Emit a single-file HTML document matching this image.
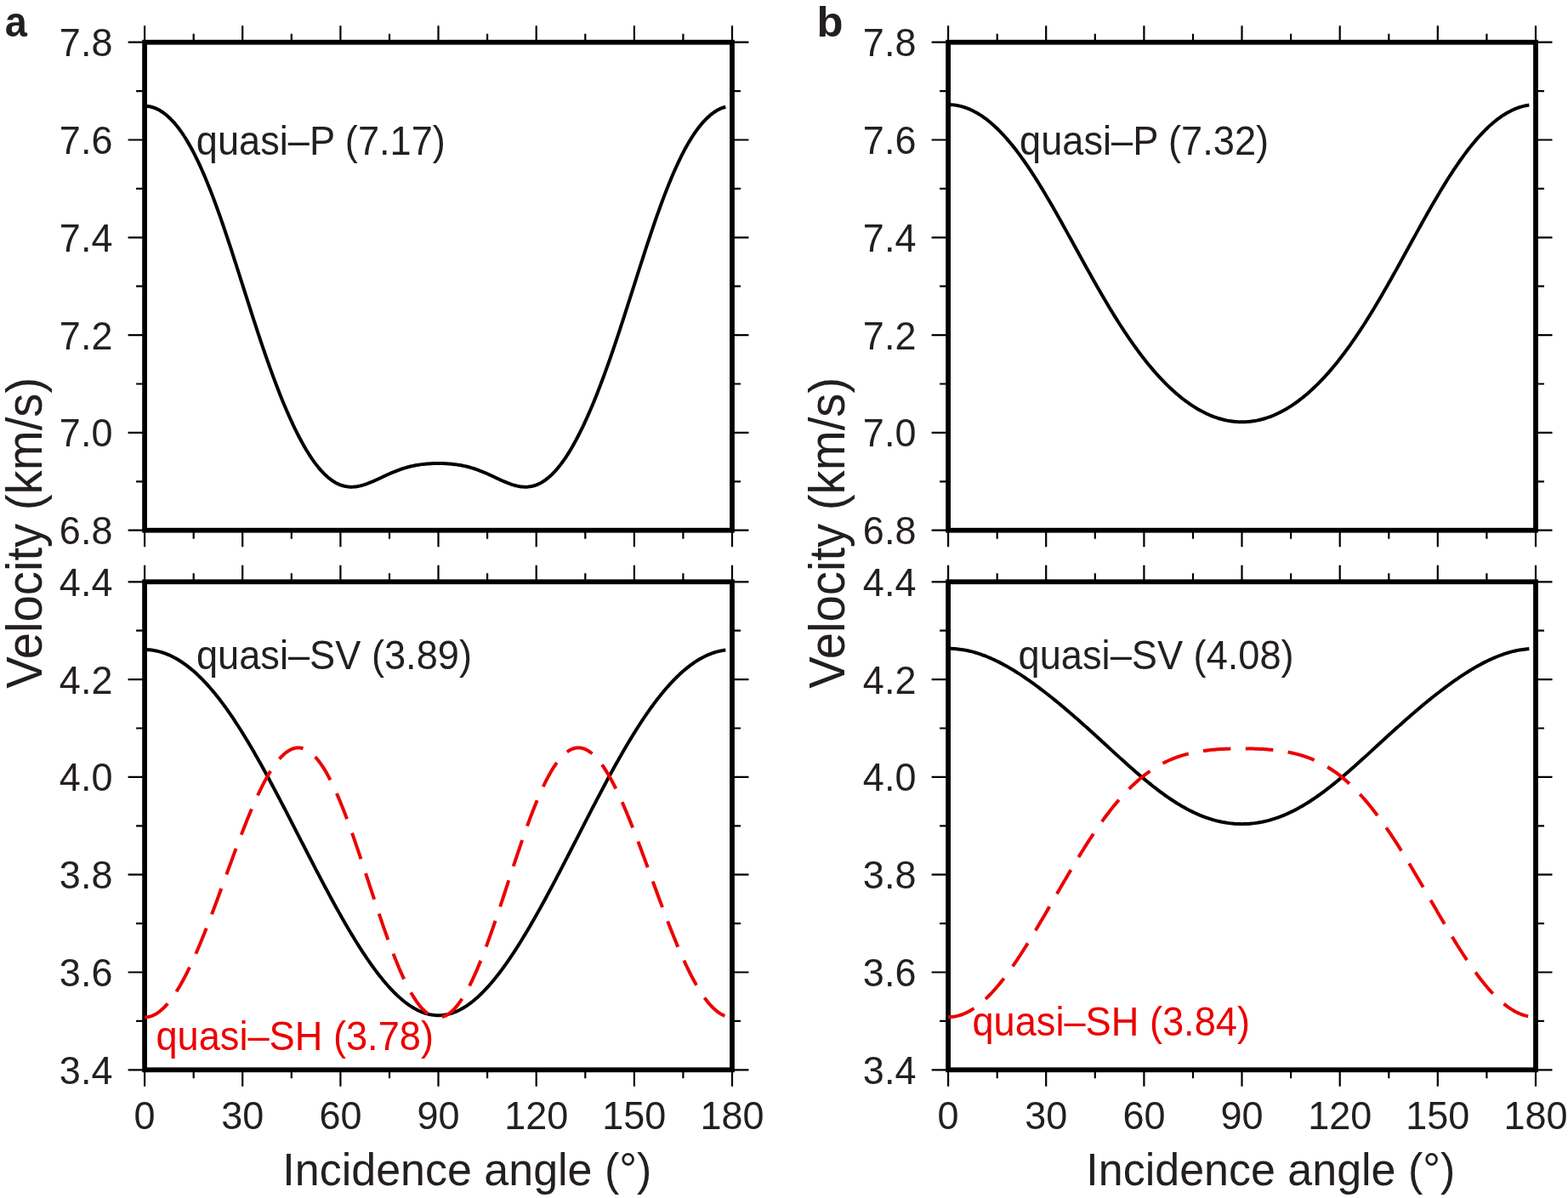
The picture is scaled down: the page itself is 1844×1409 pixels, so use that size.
<!DOCTYPE html>
<html><head><meta charset="utf-8"><title>Velocity vs incidence angle</title><style>html,body{margin:0;padding:0;background:#fff}svg{display:block}</style></head><body>
<svg width="1844" height="1409" viewBox="0 0 1844 1409" font-family='"Liberation Sans", sans-serif'>
<rect width="1844" height="1409" fill="#fff"/>
<path d="M150.6 49.7L170.1 49.7M861.0 49.7L880.5 49.7M160.1 107.1L170.1 107.1M861.0 107.1L871.0 107.1M150.6 164.5L170.1 164.5M861.0 164.5L880.5 164.5M160.1 221.9L170.1 221.9M861.0 221.9L871.0 221.9M150.6 279.3L170.1 279.3M861.0 279.3L880.5 279.3M160.1 336.7L170.1 336.7M861.0 336.7L871.0 336.7M150.6 394.1L170.1 394.1M861.0 394.1L880.5 394.1M160.1 451.5L170.1 451.5M861.0 451.5L871.0 451.5M150.6 508.9L170.1 508.9M861.0 508.9L880.5 508.9M160.1 566.3L170.1 566.3M861.0 566.3L871.0 566.3M150.6 623.7L170.1 623.7M861.0 623.7L880.5 623.7M170.1 30.2L170.1 49.7M170.1 623.7L170.1 643.2M227.7 39.7L227.7 49.7M227.7 623.7L227.7 633.7M285.2 30.2L285.2 49.7M285.2 623.7L285.2 643.2M342.8 39.7L342.8 49.7M342.8 623.7L342.8 633.7M400.4 30.2L400.4 49.7M400.4 623.7L400.4 643.2M458.0 39.7L458.0 49.7M458.0 623.7L458.0 633.7M515.5 30.2L515.5 49.7M515.5 623.7L515.5 643.2M573.1 39.7L573.1 49.7M573.1 623.7L573.1 633.7M630.7 30.2L630.7 49.7M630.7 623.7L630.7 643.2M688.3 39.7L688.3 49.7M688.3 623.7L688.3 633.7M745.9 30.2L745.9 49.7M745.9 623.7L745.9 643.2M803.4 39.7L803.4 49.7M803.4 623.7L803.4 633.7M861.0 30.2L861.0 49.7M861.0 623.7L861.0 643.2" stroke="#000" stroke-width="2.2" fill="none"/>
<rect x="170.1" y="49.7" width="690.9" height="574.0" fill="none" stroke="#000" stroke-width="5.8"/>
<path d="M150.6 684.3L170.1 684.3M861.0 684.3L880.5 684.3M160.1 741.7L170.1 741.7M861.0 741.7L871.0 741.7M150.6 799.1L170.1 799.1M861.0 799.1L880.5 799.1M160.1 856.5L170.1 856.5M861.0 856.5L871.0 856.5M150.6 913.9L170.1 913.9M861.0 913.9L880.5 913.9M160.1 971.3L170.1 971.3M861.0 971.3L871.0 971.3M150.6 1028.7L170.1 1028.7M861.0 1028.7L880.5 1028.7M160.1 1086.1L170.1 1086.1M861.0 1086.1L871.0 1086.1M150.6 1143.5L170.1 1143.5M861.0 1143.5L880.5 1143.5M160.1 1200.9L170.1 1200.9M861.0 1200.9L871.0 1200.9M150.6 1258.3L170.1 1258.3M861.0 1258.3L880.5 1258.3M170.1 664.8L170.1 684.3M170.1 1258.3L170.1 1277.8M227.7 674.3L227.7 684.3M227.7 1258.3L227.7 1268.3M285.2 664.8L285.2 684.3M285.2 1258.3L285.2 1277.8M342.8 674.3L342.8 684.3M342.8 1258.3L342.8 1268.3M400.4 664.8L400.4 684.3M400.4 1258.3L400.4 1277.8M458.0 674.3L458.0 684.3M458.0 1258.3L458.0 1268.3M515.5 664.8L515.5 684.3M515.5 1258.3L515.5 1277.8M573.1 674.3L573.1 684.3M573.1 1258.3L573.1 1268.3M630.7 664.8L630.7 684.3M630.7 1258.3L630.7 1277.8M688.3 674.3L688.3 684.3M688.3 1258.3L688.3 1268.3M745.9 664.8L745.9 684.3M745.9 1258.3L745.9 1277.8M803.4 674.3L803.4 684.3M803.4 1258.3L803.4 1268.3M861.0 664.8L861.0 684.3M861.0 1258.3L861.0 1277.8" stroke="#000" stroke-width="2.2" fill="none"/>
<rect x="170.1" y="684.3" width="690.9" height="574.0" fill="none" stroke="#000" stroke-width="5.8"/>
<path d="M170.10 124.79 L172.02 124.85 L173.94 125.02 L175.86 125.32 L177.78 125.73 L179.70 126.26 L181.62 126.91 L183.53 127.68 L185.45 128.57 L187.37 129.58 L189.29 130.71 L191.21 131.96 L193.13 133.33 L195.05 134.83 L196.97 136.45 L198.89 138.19 L200.81 140.05 L202.73 142.04 L204.64 144.15 L206.56 146.39 L208.48 148.76 L210.40 151.25 L212.32 153.87 L214.24 156.62 L216.16 159.49 L218.08 162.49 L220.00 165.62 L221.92 168.88 L223.84 172.27 L225.76 175.78 L227.68 179.41 L229.59 183.18 L231.51 187.07 L233.43 191.08 L235.35 195.21 L237.27 199.46 L239.19 203.83 L241.11 208.32 L243.03 212.92 L244.95 217.63 L246.87 222.45 L248.79 227.38 L250.70 232.40 L252.62 237.53 L254.54 242.75 L256.46 248.06 L258.38 253.45 L260.30 258.93 L262.22 264.48 L264.14 270.10 L266.06 275.79 L267.98 281.54 L269.90 287.35 L271.82 293.20 L273.74 299.10 L275.65 305.04 L277.57 311.01 L279.49 317.00 L281.41 323.01 L283.33 329.04 L285.25 335.08 L287.17 341.12 L289.09 347.15 L291.01 353.18 L292.93 359.19 L294.85 365.18 L296.76 371.14 L298.68 377.07 L300.60 382.97 L302.52 388.82 L304.44 394.63 L306.36 400.39 L308.28 406.09 L310.20 411.73 L312.12 417.31 L314.04 422.82 L315.96 428.27 L317.88 433.64 L319.79 438.93 L321.71 444.15 L323.63 449.28 L325.55 454.33 L327.47 459.29 L329.39 464.17 L331.31 468.95 L333.23 473.65 L335.15 478.25 L337.07 482.75 L338.99 487.16 L340.91 491.47 L342.82 495.68 L344.74 499.79 L346.66 503.80 L348.58 507.71 L350.50 511.51 L352.42 515.21 L354.34 518.80 L356.26 522.28 L358.18 525.65 L360.10 528.92 L362.02 532.07 L363.94 535.11 L365.86 538.04 L367.77 540.85 L369.69 543.54 L371.61 546.12 L373.53 548.58 L375.45 550.93 L377.37 553.15 L379.29 555.25 L381.21 557.23 L383.13 559.09 L385.05 560.82 L386.97 562.44 L388.88 563.93 L390.80 565.30 L392.72 566.55 L394.64 567.67 L396.56 568.68 L398.48 569.57 L400.40 570.34 L402.32 571.00 L404.24 571.54 L406.16 571.97 L408.08 572.30 L410.00 572.52 L411.91 572.63 L413.83 572.65 L415.75 572.58 L417.67 572.42 L419.59 572.17 L421.51 571.84 L423.43 571.43 L425.35 570.95 L427.27 570.41 L429.19 569.81 L431.11 569.15 L433.03 568.45 L434.95 567.70 L436.86 566.91 L438.78 566.09 L440.70 565.24 L442.62 564.37 L444.54 563.49 L446.46 562.59 L448.38 561.69 L450.30 560.79 L452.22 559.89 L454.14 559.00 L456.06 558.12 L457.98 557.26 L459.89 556.41 L461.81 555.59 L463.73 554.79 L465.65 554.02 L467.57 553.27 L469.49 552.56 L471.41 551.88 L473.33 551.24 L475.25 550.62 L477.17 550.05 L479.09 549.50 L481.00 549.00 L482.92 548.53 L484.84 548.09 L486.76 547.68 L488.68 547.31 L490.60 546.97 L492.52 546.67 L494.44 546.39 L496.36 546.14 L498.28 545.92 L500.20 545.73 L502.12 545.56 L504.03 545.41 L505.95 545.29 L507.87 545.20 L509.79 545.12 L511.71 545.07 L513.63 545.04 L515.55 545.03 L517.47 545.04 L519.39 545.07 L521.31 545.12 L523.23 545.20 L525.15 545.29 L527.07 545.41 L528.98 545.56 L530.90 545.73 L532.82 545.92 L534.74 546.14 L536.66 546.39 L538.58 546.67 L540.50 546.97 L542.42 547.31 L544.34 547.68 L546.26 548.09 L548.18 548.53 L550.10 549.00 L552.01 549.50 L553.93 550.05 L555.85 550.62 L557.77 551.24 L559.69 551.88 L561.61 552.56 L563.53 553.27 L565.45 554.02 L567.37 554.79 L569.29 555.59 L571.21 556.41 L573.12 557.26 L575.04 558.12 L576.96 559.00 L578.88 559.89 L580.80 560.79 L582.72 561.69 L584.64 562.59 L586.56 563.49 L588.48 564.37 L590.40 565.24 L592.32 566.09 L594.24 566.91 L596.15 567.70 L598.07 568.45 L599.99 569.15 L601.91 569.81 L603.83 570.41 L605.75 570.95 L607.67 571.43 L609.59 571.84 L611.51 572.17 L613.43 572.42 L615.35 572.58 L617.27 572.65 L619.18 572.63 L621.10 572.52 L623.02 572.30 L624.94 571.97 L626.86 571.54 L628.78 571.00 L630.70 570.34 L632.62 569.57 L634.54 568.68 L636.46 567.67 L638.38 566.55 L640.30 565.30 L642.22 563.93 L644.13 562.44 L646.05 560.82 L647.97 559.09 L649.89 557.23 L651.81 555.25 L653.73 553.15 L655.65 550.93 L657.57 548.58 L659.49 546.12 L661.41 543.54 L663.33 540.85 L665.25 538.04 L667.16 535.11 L669.08 532.07 L671.00 528.92 L672.92 525.65 L674.84 522.28 L676.76 518.80 L678.68 515.21 L680.60 511.51 L682.52 507.71 L684.44 503.80 L686.36 499.79 L688.27 495.68 L690.19 491.47 L692.11 487.16 L694.03 482.75 L695.95 478.25 L697.87 473.65 L699.79 468.95 L701.71 464.17 L703.63 459.29 L705.55 454.33 L707.47 449.28 L709.39 444.15 L711.31 438.93 L713.22 433.64 L715.14 428.27 L717.06 422.82 L718.98 417.31 L720.90 411.73 L722.82 406.09 L724.74 400.39 L726.66 394.63 L728.58 388.82 L730.50 382.97 L732.42 377.07 L734.34 371.14 L736.25 365.18 L738.17 359.19 L740.09 353.18 L742.01 347.15 L743.93 341.12 L745.85 335.08 L747.77 329.04 L749.69 323.01 L751.61 317.00 L753.53 311.01 L755.45 305.04 L757.37 299.10 L759.28 293.20 L761.20 287.35 L763.12 281.54 L765.04 275.79 L766.96 270.10 L768.88 264.48 L770.80 258.93 L772.72 253.45 L774.64 248.06 L776.56 242.75 L778.48 237.53 L780.39 232.40 L782.31 227.38 L784.23 222.45 L786.15 217.63 L788.07 212.92 L789.99 208.32 L791.91 203.83 L793.83 199.46 L795.75 195.21 L797.67 191.08 L799.59 187.07 L801.51 183.18 L803.43 179.41 L805.34 175.78 L807.26 172.27 L809.18 168.88 L811.10 165.62 L813.02 162.49 L814.94 159.49 L816.86 156.62 L818.78 153.87 L820.70 151.25 L822.62 148.76 L824.54 146.39 L826.46 144.15 L828.37 142.04 L830.29 140.05 L832.21 138.19 L834.13 136.45 L836.05 134.83 L837.97 133.33 L839.89 131.96 L841.81 130.71 L843.73 129.58 L845.65 128.57 L847.57 127.68 L849.49 126.91 L851.40 126.26 L853.32 125.73" stroke="#000" stroke-width="4.0" fill="none" stroke-linejoin="round"/>
<path d="M170.10 764.09 L172.02 764.11 L173.94 764.20 L175.86 764.34 L177.78 764.54 L179.70 764.79 L181.62 765.10 L183.53 765.47 L185.45 765.89 L187.37 766.37 L189.29 766.90 L191.21 767.49 L193.13 768.14 L195.05 768.85 L196.97 769.61 L198.89 770.42 L200.81 771.29 L202.73 772.22 L204.64 773.21 L206.56 774.25 L208.48 775.34 L210.40 776.49 L212.32 777.70 L214.24 778.96 L216.16 780.28 L218.08 781.66 L220.00 783.08 L221.92 784.57 L223.84 786.11 L225.76 787.70 L227.68 789.34 L229.59 791.05 L231.51 792.80 L233.43 794.61 L235.35 796.47 L237.27 798.38 L239.19 800.35 L241.11 802.37 L243.03 804.44 L244.95 806.57 L246.87 808.74 L248.79 810.96 L250.70 813.24 L252.62 815.56 L254.54 817.94 L256.46 820.36 L258.38 822.83 L260.30 825.35 L262.22 827.91 L264.14 830.52 L266.06 833.18 L267.98 835.88 L269.90 838.62 L271.82 841.41 L273.74 844.24 L275.65 847.12 L277.57 850.03 L279.49 852.99 L281.41 855.98 L283.33 859.01 L285.25 862.08 L287.17 865.19 L289.09 868.34 L291.01 871.51 L292.93 874.73 L294.85 877.97 L296.76 881.25 L298.68 884.56 L300.60 887.90 L302.52 891.27 L304.44 894.66 L306.36 898.09 L308.28 901.54 L310.20 905.01 L312.12 908.51 L314.04 912.03 L315.96 915.57 L317.88 919.13 L319.79 922.72 L321.71 926.32 L323.63 929.94 L325.55 933.57 L327.47 937.22 L329.39 940.89 L331.31 944.56 L333.23 948.25 L335.15 951.95 L337.07 955.66 L338.99 959.38 L340.91 963.10 L342.82 966.83 L344.74 970.57 L346.66 974.31 L348.58 978.05 L350.50 981.80 L352.42 985.54 L354.34 989.29 L356.26 993.03 L358.18 996.77 L360.10 1000.51 L362.02 1004.24 L363.94 1007.97 L365.86 1011.69 L367.77 1015.41 L369.69 1019.11 L371.61 1022.80 L373.53 1026.49 L375.45 1030.16 L377.37 1033.82 L379.29 1037.46 L381.21 1041.09 L383.13 1044.70 L385.05 1048.29 L386.97 1051.87 L388.88 1055.43 L390.80 1058.96 L392.72 1062.48 L394.64 1065.97 L396.56 1069.43 L398.48 1072.88 L400.40 1076.29 L402.32 1079.68 L404.24 1083.05 L406.16 1086.38 L408.08 1089.68 L410.00 1092.95 L411.91 1096.19 L413.83 1099.40 L415.75 1102.57 L417.67 1105.70 L419.59 1108.80 L421.51 1111.86 L423.43 1114.88 L425.35 1117.86 L427.27 1120.80 L429.19 1123.70 L431.11 1126.55 L433.03 1129.36 L434.95 1132.13 L436.86 1134.84 L438.78 1137.51 L440.70 1140.14 L442.62 1142.71 L444.54 1145.23 L446.46 1147.69 L448.38 1150.11 L450.30 1152.47 L452.22 1154.78 L454.14 1157.03 L456.06 1159.22 L457.98 1161.35 L459.89 1163.43 L461.81 1165.44 L463.73 1167.39 L465.65 1169.28 L467.57 1171.11 L469.49 1172.88 L471.41 1174.58 L473.33 1176.21 L475.25 1177.78 L477.17 1179.28 L479.09 1180.71 L481.00 1182.07 L482.92 1183.37 L484.84 1184.59 L486.76 1185.74 L488.68 1186.82 L490.60 1187.83 L492.52 1188.77 L494.44 1189.63 L496.36 1190.43 L498.28 1191.14 L500.20 1191.78 L502.12 1192.35 L504.03 1192.84 L505.95 1193.26 L507.87 1193.60 L509.79 1193.87 L511.71 1194.06 L513.63 1194.17 L515.55 1194.21 L517.47 1194.17 L519.39 1194.06 L521.31 1193.87 L523.23 1193.60 L525.15 1193.26 L527.07 1192.84 L528.98 1192.35 L530.90 1191.78 L532.82 1191.14 L534.74 1190.43 L536.66 1189.63 L538.58 1188.77 L540.50 1187.83 L542.42 1186.82 L544.34 1185.74 L546.26 1184.59 L548.18 1183.37 L550.10 1182.07 L552.01 1180.71 L553.93 1179.28 L555.85 1177.78 L557.77 1176.21 L559.69 1174.58 L561.61 1172.88 L563.53 1171.11 L565.45 1169.28 L567.37 1167.39 L569.29 1165.44 L571.21 1163.43 L573.12 1161.35 L575.04 1159.22 L576.96 1157.03 L578.88 1154.78 L580.80 1152.47 L582.72 1150.11 L584.64 1147.69 L586.56 1145.23 L588.48 1142.71 L590.40 1140.14 L592.32 1137.51 L594.24 1134.84 L596.15 1132.13 L598.07 1129.36 L599.99 1126.55 L601.91 1123.70 L603.83 1120.80 L605.75 1117.86 L607.67 1114.88 L609.59 1111.86 L611.51 1108.80 L613.43 1105.70 L615.35 1102.57 L617.27 1099.40 L619.18 1096.19 L621.10 1092.95 L623.02 1089.68 L624.94 1086.38 L626.86 1083.05 L628.78 1079.68 L630.70 1076.29 L632.62 1072.88 L634.54 1069.43 L636.46 1065.97 L638.38 1062.48 L640.30 1058.96 L642.22 1055.43 L644.13 1051.87 L646.05 1048.29 L647.97 1044.70 L649.89 1041.09 L651.81 1037.46 L653.73 1033.82 L655.65 1030.16 L657.57 1026.49 L659.49 1022.80 L661.41 1019.11 L663.33 1015.41 L665.25 1011.69 L667.16 1007.97 L669.08 1004.24 L671.00 1000.51 L672.92 996.77 L674.84 993.03 L676.76 989.29 L678.68 985.54 L680.60 981.80 L682.52 978.05 L684.44 974.31 L686.36 970.57 L688.27 966.83 L690.19 963.10 L692.11 959.38 L694.03 955.66 L695.95 951.95 L697.87 948.25 L699.79 944.56 L701.71 940.89 L703.63 937.22 L705.55 933.57 L707.47 929.94 L709.39 926.32 L711.31 922.72 L713.22 919.13 L715.14 915.57 L717.06 912.03 L718.98 908.51 L720.90 905.01 L722.82 901.54 L724.74 898.09 L726.66 894.66 L728.58 891.27 L730.50 887.90 L732.42 884.56 L734.34 881.25 L736.25 877.97 L738.17 874.73 L740.09 871.51 L742.01 868.34 L743.93 865.19 L745.85 862.08 L747.77 859.01 L749.69 855.98 L751.61 852.99 L753.53 850.03 L755.45 847.12 L757.37 844.24 L759.28 841.41 L761.20 838.62 L763.12 835.88 L765.04 833.18 L766.96 830.52 L768.88 827.91 L770.80 825.35 L772.72 822.83 L774.64 820.36 L776.56 817.94 L778.48 815.56 L780.39 813.24 L782.31 810.96 L784.23 808.74 L786.15 806.57 L788.07 804.44 L789.99 802.37 L791.91 800.35 L793.83 798.38 L795.75 796.47 L797.67 794.61 L799.59 792.80 L801.51 791.05 L803.43 789.34 L805.34 787.70 L807.26 786.11 L809.18 784.57 L811.10 783.08 L813.02 781.66 L814.94 780.28 L816.86 778.96 L818.78 777.70 L820.70 776.49 L822.62 775.34 L824.54 774.25 L826.46 773.21 L828.37 772.22 L830.29 771.29 L832.21 770.42 L834.13 769.61 L836.05 768.85 L837.97 768.14 L839.89 767.49 L841.81 766.90 L843.73 766.37 L845.65 765.89 L847.57 765.47 L849.49 765.10 L851.40 764.79 L853.32 764.54" stroke="#000" stroke-width="4.0" fill="none" stroke-linejoin="round"/>
<path d="M170.10 1196.43 L172.02 1196.35 L173.94 1196.11 L175.86 1195.70 L177.78 1195.12 L179.70 1194.39 L181.62 1193.49 L183.53 1192.43 L185.45 1191.21 L187.37 1189.83 L189.29 1188.30 L191.21 1186.60 L193.13 1184.75 L195.05 1182.75 L196.97 1180.60 L198.89 1178.30 L200.81 1175.85 L202.73 1173.26 L204.64 1170.52 L206.56 1167.65 L208.48 1164.64 L210.40 1161.49 L212.32 1158.22 L214.24 1154.81 L216.16 1151.28 L218.08 1147.63 L220.00 1143.86 L221.92 1139.98 L223.84 1135.99 L225.76 1131.89 L227.68 1127.69 L229.59 1123.39 L231.51 1119.00 L233.43 1114.52 L235.35 1109.95 L237.27 1105.30 L239.19 1100.58 L241.11 1095.79 L243.03 1090.93 L244.95 1086.00 L246.87 1081.02 L248.79 1075.99 L250.70 1070.92 L252.62 1065.80 L254.54 1060.65 L256.46 1055.46 L258.38 1050.25 L260.30 1045.03 L262.22 1039.78 L264.14 1034.53 L266.06 1029.28 L267.98 1024.03 L269.90 1018.79 L271.82 1013.57 L273.74 1008.36 L275.65 1003.18 L277.57 998.03 L279.49 992.92 L281.41 987.86 L283.33 982.84 L285.25 977.88 L287.17 972.97 L289.09 968.14 L291.01 963.37 L292.93 958.69 L294.85 954.09 L296.76 949.58 L298.68 945.16 L300.60 940.84 L302.52 936.63 L304.44 932.53 L306.36 928.55 L308.28 924.68 L310.20 920.95 L312.12 917.34 L314.04 913.88 L315.96 910.55 L317.88 907.37 L319.79 904.34 L321.71 901.47 L323.63 898.75 L325.55 896.20 L327.47 893.82 L329.39 891.61 L331.31 889.57 L333.23 887.71 L335.15 886.03 L337.07 884.54 L338.99 883.23 L340.91 882.11 L342.82 881.19 L344.74 880.46 L346.66 879.92 L348.58 879.59 L350.50 879.45 L352.42 879.51 L354.34 879.77 L356.26 880.24 L358.18 880.91 L360.10 881.77 L362.02 882.84 L363.94 884.12 L365.86 885.59 L367.77 887.26 L369.69 889.13 L371.61 891.19 L373.53 893.45 L375.45 895.90 L377.37 898.55 L379.29 901.37 L381.21 904.38 L383.13 907.57 L385.05 910.94 L386.97 914.48 L388.88 918.18 L390.80 922.05 L392.72 926.08 L394.64 930.26 L396.56 934.59 L398.48 939.06 L400.40 943.66 L402.32 948.40 L404.24 953.26 L406.16 958.24 L408.08 963.33 L410.00 968.52 L411.91 973.81 L413.83 979.19 L415.75 984.65 L417.67 990.18 L419.59 995.78 L421.51 1001.45 L423.43 1007.16 L425.35 1012.92 L427.27 1018.71 L429.19 1024.53 L431.11 1030.37 L433.03 1036.22 L434.95 1042.07 L436.86 1047.92 L438.78 1053.75 L440.70 1059.57 L442.62 1065.35 L444.54 1071.10 L446.46 1076.80 L448.38 1082.45 L450.30 1088.03 L452.22 1093.55 L454.14 1098.99 L456.06 1104.35 L457.98 1109.62 L459.89 1114.78 L461.81 1119.85 L463.73 1124.80 L465.65 1129.63 L467.57 1134.33 L469.49 1138.91 L471.41 1143.34 L473.33 1147.64 L475.25 1151.78 L477.17 1155.77 L479.09 1159.60 L481.00 1163.26 L482.92 1166.75 L484.84 1170.07 L486.76 1173.21 L488.68 1176.16 L490.60 1178.93 L492.52 1181.51 L494.44 1183.89 L496.36 1186.08 L498.28 1188.07 L500.20 1189.85 L502.12 1191.43 L504.03 1192.80 L505.95 1193.97 L507.87 1194.93 L509.79 1195.67 L511.71 1196.20 L513.63 1196.52 L515.55 1196.63 L517.47 1196.52 L519.39 1196.20 L521.31 1195.67 L523.23 1194.93 L525.15 1193.97 L527.07 1192.80 L528.98 1191.43 L530.90 1189.85 L532.82 1188.07 L534.74 1186.08 L536.66 1183.89 L538.58 1181.51 L540.50 1178.93 L542.42 1176.16 L544.34 1173.21 L546.26 1170.07 L548.18 1166.75 L550.10 1163.26 L552.01 1159.60 L553.93 1155.77 L555.85 1151.78 L557.77 1147.64 L559.69 1143.34 L561.61 1138.91 L563.53 1134.33 L565.45 1129.63 L567.37 1124.80 L569.29 1119.85 L571.21 1114.78 L573.12 1109.62 L575.04 1104.35 L576.96 1098.99 L578.88 1093.55 L580.80 1088.03 L582.72 1082.45 L584.64 1076.80 L586.56 1071.10 L588.48 1065.35 L590.40 1059.57 L592.32 1053.75 L594.24 1047.92 L596.15 1042.07 L598.07 1036.22 L599.99 1030.37 L601.91 1024.53 L603.83 1018.71 L605.75 1012.92 L607.67 1007.16 L609.59 1001.45 L611.51 995.78 L613.43 990.18 L615.35 984.65 L617.27 979.19 L619.18 973.81 L621.10 968.52 L623.02 963.33 L624.94 958.24 L626.86 953.26 L628.78 948.40 L630.70 943.66 L632.62 939.06 L634.54 934.59 L636.46 930.26 L638.38 926.08 L640.30 922.05 L642.22 918.18 L644.13 914.48 L646.05 910.94 L647.97 907.57 L649.89 904.38 L651.81 901.37 L653.73 898.55 L655.65 895.90 L657.57 893.45 L659.49 891.19 L661.41 889.13 L663.33 887.26 L665.25 885.59 L667.16 884.12 L669.08 882.84 L671.00 881.77 L672.92 880.91 L674.84 880.24 L676.76 879.77 L678.68 879.51 L680.60 879.45 L682.52 879.59 L684.44 879.92 L686.36 880.46 L688.27 881.19 L690.19 882.11 L692.11 883.23 L694.03 884.54 L695.95 886.03 L697.87 887.71 L699.79 889.57 L701.71 891.61 L703.63 893.82 L705.55 896.20 L707.47 898.75 L709.39 901.47 L711.31 904.34 L713.22 907.37 L715.14 910.55 L717.06 913.88 L718.98 917.34 L720.90 920.95 L722.82 924.68 L724.74 928.55 L726.66 932.53 L728.58 936.63 L730.50 940.84 L732.42 945.16 L734.34 949.58 L736.25 954.09 L738.17 958.69 L740.09 963.37 L742.01 968.14 L743.93 972.97 L745.85 977.88 L747.77 982.84 L749.69 987.86 L751.61 992.92 L753.53 998.03 L755.45 1003.18 L757.37 1008.36 L759.28 1013.57 L761.20 1018.79 L763.12 1024.03 L765.04 1029.28 L766.96 1034.53 L768.88 1039.78 L770.80 1045.03 L772.72 1050.25 L774.64 1055.46 L776.56 1060.65 L778.48 1065.80 L780.39 1070.92 L782.31 1075.99 L784.23 1081.02 L786.15 1086.00 L788.07 1090.93 L789.99 1095.79 L791.91 1100.58 L793.83 1105.30 L795.75 1109.95 L797.67 1114.52 L799.59 1119.00 L801.51 1123.39 L803.43 1127.69 L805.34 1131.89 L807.26 1135.99 L809.18 1139.98 L811.10 1143.86 L813.02 1147.63 L814.94 1151.28 L816.86 1154.81 L818.78 1158.22 L820.70 1161.49 L822.62 1164.64 L824.54 1167.65 L826.46 1170.52 L828.37 1173.26 L830.29 1175.85 L832.21 1178.30 L834.13 1180.60 L836.05 1182.75 L837.97 1184.75 L839.89 1186.60 L841.81 1188.30 L843.73 1189.83 L845.65 1191.21 L847.57 1192.43 L849.49 1193.49 L851.40 1194.39 L853.32 1195.12" stroke="#eb0000" stroke-width="4.0" fill="none" stroke-linejoin="round" stroke-dasharray="32.5 17.5"/>
<text transform="translate(132.40 66.10) scale(1 1.045)" font-size="45.0" text-anchor="end" fill="#231f20">7.8</text>
<text transform="translate(132.40 180.90) scale(1 1.045)" font-size="45.0" text-anchor="end" fill="#231f20">7.6</text>
<text transform="translate(132.40 295.70) scale(1 1.045)" font-size="45.0" text-anchor="end" fill="#231f20">7.4</text>
<text transform="translate(132.40 410.50) scale(1 1.045)" font-size="45.0" text-anchor="end" fill="#231f20">7.2</text>
<text transform="translate(132.40 525.30) scale(1 1.045)" font-size="45.0" text-anchor="end" fill="#231f20">7.0</text>
<text transform="translate(132.40 640.10) scale(1 1.045)" font-size="45.0" text-anchor="end" fill="#231f20">6.8</text>
<text transform="translate(132.40 700.70) scale(1 1.045)" font-size="45.0" text-anchor="end" fill="#231f20">4.4</text>
<text transform="translate(132.40 815.50) scale(1 1.045)" font-size="45.0" text-anchor="end" fill="#231f20">4.2</text>
<text transform="translate(132.40 930.30) scale(1 1.045)" font-size="45.0" text-anchor="end" fill="#231f20">4.0</text>
<text transform="translate(132.40 1045.10) scale(1 1.045)" font-size="45.0" text-anchor="end" fill="#231f20">3.8</text>
<text transform="translate(132.40 1159.90) scale(1 1.045)" font-size="45.0" text-anchor="end" fill="#231f20">3.6</text>
<text transform="translate(132.40 1274.70) scale(1 1.045)" font-size="45.0" text-anchor="end" fill="#231f20">3.4</text>
<text transform="translate(170.10 1328.30) scale(1 1.045)" font-size="45.0" text-anchor="middle" fill="#231f20">0</text>
<text transform="translate(285.25 1328.30) scale(1 1.045)" font-size="45.0" text-anchor="middle" fill="#231f20">30</text>
<text transform="translate(400.40 1328.30) scale(1 1.045)" font-size="45.0" text-anchor="middle" fill="#231f20">60</text>
<text transform="translate(515.55 1328.30) scale(1 1.045)" font-size="45.0" text-anchor="middle" fill="#231f20">90</text>
<text transform="translate(630.70 1328.30) scale(1 1.045)" font-size="45.0" text-anchor="middle" fill="#231f20">120</text>
<text transform="translate(745.85 1328.30) scale(1 1.045)" font-size="45.0" text-anchor="middle" fill="#231f20">150</text>
<text transform="translate(861.00 1328.30) scale(1 1.045)" font-size="45.0" text-anchor="middle" fill="#231f20">180</text>
<text transform="translate(332.32 1394.00) scale(1 1.045)" font-size="52.0" text-anchor="start" fill="#231f20">Incidence angle (°)</text>
<text transform="translate(48.6 809.8) rotate(-90) scale(1 1.045)" font-size="56.3" fill="#231f20">Velocity (km/s)</text>
<text transform="translate(230.80 181.50) scale(1 1.045)" font-size="45.2" text-anchor="start" fill="#231f20">quasi–P (7.17)</text>
<text transform="translate(230.90 786.50) scale(1 1.045)" font-size="45.2" text-anchor="start" fill="#231f20">quasi–SV (3.89)</text>
<text transform="translate(183.40 1235.00) scale(1 1.045)" font-size="45.2" text-anchor="start" fill="#eb0000">quasi–SH (3.78)</text>
<path d="M1095.6 49.7L1115.1 49.7M1806.0 49.7L1825.5 49.7M1105.1 107.1L1115.1 107.1M1806.0 107.1L1816.0 107.1M1095.6 164.5L1115.1 164.5M1806.0 164.5L1825.5 164.5M1105.1 221.9L1115.1 221.9M1806.0 221.9L1816.0 221.9M1095.6 279.3L1115.1 279.3M1806.0 279.3L1825.5 279.3M1105.1 336.7L1115.1 336.7M1806.0 336.7L1816.0 336.7M1095.6 394.1L1115.1 394.1M1806.0 394.1L1825.5 394.1M1105.1 451.5L1115.1 451.5M1806.0 451.5L1816.0 451.5M1095.6 508.9L1115.1 508.9M1806.0 508.9L1825.5 508.9M1105.1 566.3L1115.1 566.3M1806.0 566.3L1816.0 566.3M1095.6 623.7L1115.1 623.7M1806.0 623.7L1825.5 623.7M1115.1 30.2L1115.1 49.7M1115.1 623.7L1115.1 643.2M1172.7 39.7L1172.7 49.7M1172.7 623.7L1172.7 633.7M1230.2 30.2L1230.2 49.7M1230.2 623.7L1230.2 643.2M1287.8 39.7L1287.8 49.7M1287.8 623.7L1287.8 633.7M1345.4 30.2L1345.4 49.7M1345.4 623.7L1345.4 643.2M1403.0 39.7L1403.0 49.7M1403.0 623.7L1403.0 633.7M1460.5 30.2L1460.5 49.7M1460.5 623.7L1460.5 643.2M1518.1 39.7L1518.1 49.7M1518.1 623.7L1518.1 633.7M1575.7 30.2L1575.7 49.7M1575.7 623.7L1575.7 643.2M1633.3 39.7L1633.3 49.7M1633.3 623.7L1633.3 633.7M1690.8 30.2L1690.8 49.7M1690.8 623.7L1690.8 643.2M1748.4 39.7L1748.4 49.7M1748.4 623.7L1748.4 633.7M1806.0 30.2L1806.0 49.7M1806.0 623.7L1806.0 643.2" stroke="#000" stroke-width="2.2" fill="none"/>
<rect x="1115.1" y="49.7" width="690.9" height="574.0" fill="none" stroke="#000" stroke-width="5.8"/>
<path d="M1095.6 684.3L1115.1 684.3M1806.0 684.3L1825.5 684.3M1105.1 741.7L1115.1 741.7M1806.0 741.7L1816.0 741.7M1095.6 799.1L1115.1 799.1M1806.0 799.1L1825.5 799.1M1105.1 856.5L1115.1 856.5M1806.0 856.5L1816.0 856.5M1095.6 913.9L1115.1 913.9M1806.0 913.9L1825.5 913.9M1105.1 971.3L1115.1 971.3M1806.0 971.3L1816.0 971.3M1095.6 1028.7L1115.1 1028.7M1806.0 1028.7L1825.5 1028.7M1105.1 1086.1L1115.1 1086.1M1806.0 1086.1L1816.0 1086.1M1095.6 1143.5L1115.1 1143.5M1806.0 1143.5L1825.5 1143.5M1105.1 1200.9L1115.1 1200.9M1806.0 1200.9L1816.0 1200.9M1095.6 1258.3L1115.1 1258.3M1806.0 1258.3L1825.5 1258.3M1115.1 664.8L1115.1 684.3M1115.1 1258.3L1115.1 1277.8M1172.7 674.3L1172.7 684.3M1172.7 1258.3L1172.7 1268.3M1230.2 664.8L1230.2 684.3M1230.2 1258.3L1230.2 1277.8M1287.8 674.3L1287.8 684.3M1287.8 1258.3L1287.8 1268.3M1345.4 664.8L1345.4 684.3M1345.4 1258.3L1345.4 1277.8M1403.0 674.3L1403.0 684.3M1403.0 1258.3L1403.0 1268.3M1460.5 664.8L1460.5 684.3M1460.5 1258.3L1460.5 1277.8M1518.1 674.3L1518.1 684.3M1518.1 1258.3L1518.1 1268.3M1575.7 664.8L1575.7 684.3M1575.7 1258.3L1575.7 1277.8M1633.3 674.3L1633.3 684.3M1633.3 1258.3L1633.3 1268.3M1690.8 664.8L1690.8 684.3M1690.8 1258.3L1690.8 1277.8M1748.4 674.3L1748.4 684.3M1748.4 1258.3L1748.4 1268.3M1806.0 664.8L1806.0 684.3M1806.0 1258.3L1806.0 1277.8" stroke="#000" stroke-width="2.2" fill="none"/>
<rect x="1115.1" y="684.3" width="690.9" height="574.0" fill="none" stroke="#000" stroke-width="5.8"/>
<path d="M1115.10 123.10 L1117.02 123.13 L1118.94 123.22 L1120.86 123.38 L1122.78 123.60 L1124.70 123.88 L1126.62 124.23 L1128.53 124.64 L1130.45 125.11 L1132.37 125.65 L1134.29 126.25 L1136.21 126.91 L1138.13 127.63 L1140.05 128.42 L1141.97 129.27 L1143.89 130.18 L1145.81 131.16 L1147.73 132.19 L1149.64 133.29 L1151.56 134.45 L1153.48 135.67 L1155.40 136.96 L1157.32 138.30 L1159.24 139.71 L1161.16 141.18 L1163.08 142.71 L1165.00 144.29 L1166.92 145.94 L1168.84 147.65 L1170.76 149.42 L1172.67 151.25 L1174.59 153.13 L1176.51 155.07 L1178.43 157.07 L1180.35 159.13 L1182.27 161.24 L1184.19 163.41 L1186.11 165.64 L1188.03 167.92 L1189.95 170.25 L1191.87 172.63 L1193.79 175.07 L1195.70 177.56 L1197.62 180.10 L1199.54 182.68 L1201.46 185.32 L1203.38 188.01 L1205.30 190.74 L1207.22 193.51 L1209.14 196.33 L1211.06 199.20 L1212.98 202.10 L1214.90 205.05 L1216.82 208.03 L1218.73 211.06 L1220.65 214.12 L1222.57 217.21 L1224.49 220.35 L1226.41 223.51 L1228.33 226.70 L1230.25 229.93 L1232.17 233.18 L1234.09 236.46 L1236.01 239.77 L1237.93 243.10 L1239.85 246.45 L1241.76 249.82 L1243.68 253.21 L1245.60 256.62 L1247.52 260.04 L1249.44 263.48 L1251.36 266.93 L1253.28 270.40 L1255.20 273.87 L1257.12 277.35 L1259.04 280.83 L1260.96 284.32 L1262.88 287.82 L1264.79 291.31 L1266.71 294.81 L1268.63 298.30 L1270.55 301.79 L1272.47 305.27 L1274.39 308.75 L1276.31 312.22 L1278.23 315.68 L1280.15 319.13 L1282.07 322.57 L1283.99 326.00 L1285.91 329.41 L1287.82 332.80 L1289.74 336.18 L1291.66 339.54 L1293.58 342.87 L1295.50 346.19 L1297.42 349.49 L1299.34 352.76 L1301.26 356.00 L1303.18 359.23 L1305.10 362.42 L1307.02 365.59 L1308.94 368.73 L1310.86 371.84 L1312.77 374.92 L1314.69 377.97 L1316.61 380.99 L1318.53 383.97 L1320.45 386.93 L1322.37 389.85 L1324.29 392.73 L1326.21 395.58 L1328.13 398.40 L1330.05 401.17 L1331.97 403.92 L1333.88 406.62 L1335.80 409.29 L1337.72 411.92 L1339.64 414.52 L1341.56 417.07 L1343.48 419.59 L1345.40 422.06 L1347.32 424.50 L1349.24 426.90 L1351.16 429.26 L1353.08 431.58 L1355.00 433.86 L1356.91 436.10 L1358.83 438.30 L1360.75 440.46 L1362.67 442.57 L1364.59 444.65 L1366.51 446.69 L1368.43 448.69 L1370.35 450.64 L1372.27 452.56 L1374.19 454.43 L1376.11 456.27 L1378.03 458.06 L1379.94 459.81 L1381.86 461.52 L1383.78 463.19 L1385.70 464.82 L1387.62 466.41 L1389.54 467.96 L1391.46 469.46 L1393.38 470.93 L1395.30 472.35 L1397.22 473.74 L1399.14 475.08 L1401.06 476.38 L1402.97 477.64 L1404.89 478.86 L1406.81 480.04 L1408.73 481.18 L1410.65 482.27 L1412.57 483.33 L1414.49 484.34 L1416.41 485.31 L1418.33 486.25 L1420.25 487.14 L1422.17 487.99 L1424.09 488.80 L1426.00 489.56 L1427.92 490.29 L1429.84 490.97 L1431.76 491.62 L1433.68 492.22 L1435.60 492.78 L1437.52 493.30 L1439.44 493.78 L1441.36 494.21 L1443.28 494.61 L1445.20 494.96 L1447.12 495.27 L1449.03 495.54 L1450.95 495.77 L1452.87 495.96 L1454.79 496.11 L1456.71 496.21 L1458.63 496.27 L1460.55 496.29 L1462.47 496.27 L1464.39 496.21 L1466.31 496.11 L1468.23 495.96 L1470.15 495.77 L1472.07 495.54 L1473.98 495.27 L1475.90 494.96 L1477.82 494.61 L1479.74 494.21 L1481.66 493.78 L1483.58 493.30 L1485.50 492.78 L1487.42 492.22 L1489.34 491.62 L1491.26 490.97 L1493.18 490.29 L1495.09 489.56 L1497.01 488.80 L1498.93 487.99 L1500.85 487.14 L1502.77 486.25 L1504.69 485.31 L1506.61 484.34 L1508.53 483.33 L1510.45 482.27 L1512.37 481.18 L1514.29 480.04 L1516.21 478.86 L1518.12 477.64 L1520.04 476.38 L1521.96 475.08 L1523.88 473.74 L1525.80 472.35 L1527.72 470.93 L1529.64 469.46 L1531.56 467.96 L1533.48 466.41 L1535.40 464.82 L1537.32 463.19 L1539.24 461.52 L1541.15 459.81 L1543.07 458.06 L1544.99 456.27 L1546.91 454.43 L1548.83 452.56 L1550.75 450.64 L1552.67 448.69 L1554.59 446.69 L1556.51 444.65 L1558.43 442.57 L1560.35 440.46 L1562.27 438.30 L1564.18 436.10 L1566.10 433.86 L1568.02 431.58 L1569.94 429.26 L1571.86 426.90 L1573.78 424.50 L1575.70 422.06 L1577.62 419.59 L1579.54 417.07 L1581.46 414.52 L1583.38 411.92 L1585.30 409.29 L1587.21 406.62 L1589.13 403.92 L1591.05 401.17 L1592.97 398.40 L1594.89 395.58 L1596.81 392.73 L1598.73 389.85 L1600.65 386.93 L1602.57 383.97 L1604.49 380.99 L1606.41 377.97 L1608.33 374.92 L1610.24 371.84 L1612.16 368.73 L1614.08 365.59 L1616.00 362.42 L1617.92 359.23 L1619.84 356.00 L1621.76 352.76 L1623.68 349.49 L1625.60 346.19 L1627.52 342.87 L1629.44 339.54 L1631.36 336.18 L1633.27 332.80 L1635.19 329.41 L1637.11 326.00 L1639.03 322.57 L1640.95 319.13 L1642.87 315.68 L1644.79 312.22 L1646.71 308.75 L1648.63 305.27 L1650.55 301.79 L1652.47 298.30 L1654.39 294.81 L1656.30 291.31 L1658.22 287.82 L1660.14 284.32 L1662.06 280.83 L1663.98 277.35 L1665.90 273.87 L1667.82 270.40 L1669.74 266.93 L1671.66 263.48 L1673.58 260.04 L1675.50 256.62 L1677.42 253.21 L1679.34 249.82 L1681.25 246.45 L1683.17 243.10 L1685.09 239.77 L1687.01 236.46 L1688.93 233.18 L1690.85 229.93 L1692.77 226.70 L1694.69 223.51 L1696.61 220.35 L1698.53 217.21 L1700.45 214.12 L1702.36 211.06 L1704.28 208.03 L1706.20 205.05 L1708.12 202.10 L1710.04 199.20 L1711.96 196.33 L1713.88 193.51 L1715.80 190.74 L1717.72 188.01 L1719.64 185.32 L1721.56 182.68 L1723.48 180.10 L1725.39 177.56 L1727.31 175.07 L1729.23 172.63 L1731.15 170.25 L1733.07 167.92 L1734.99 165.64 L1736.91 163.41 L1738.83 161.24 L1740.75 159.13 L1742.67 157.07 L1744.59 155.07 L1746.51 153.13 L1748.42 151.25 L1750.34 149.42 L1752.26 147.65 L1754.18 145.94 L1756.10 144.29 L1758.02 142.71 L1759.94 141.18 L1761.86 139.71 L1763.78 138.30 L1765.70 136.96 L1767.62 135.67 L1769.54 134.45 L1771.45 133.29 L1773.37 132.19 L1775.29 131.16 L1777.21 130.18 L1779.13 129.27 L1781.05 128.42 L1782.97 127.63 L1784.89 126.91 L1786.81 126.25 L1788.73 125.65 L1790.65 125.11 L1792.57 124.64 L1794.48 124.23 L1796.40 123.88 L1798.32 123.60" stroke="#000" stroke-width="4.0" fill="none" stroke-linejoin="round"/>
<path d="M1115.10 762.79 L1117.02 762.81 L1118.94 762.86 L1120.86 762.95 L1122.78 763.07 L1124.70 763.23 L1126.62 763.42 L1128.53 763.65 L1130.45 763.91 L1132.37 764.20 L1134.29 764.53 L1136.21 764.89 L1138.13 765.29 L1140.05 765.71 L1141.97 766.17 L1143.89 766.67 L1145.81 767.19 L1147.73 767.75 L1149.64 768.34 L1151.56 768.96 L1153.48 769.61 L1155.40 770.29 L1157.32 771.00 L1159.24 771.74 L1161.16 772.51 L1163.08 773.30 L1165.00 774.13 L1166.92 774.98 L1168.84 775.86 L1170.76 776.76 L1172.67 777.69 L1174.59 778.65 L1176.51 779.63 L1178.43 780.63 L1180.35 781.66 L1182.27 782.71 L1184.19 783.79 L1186.11 784.88 L1188.03 786.00 L1189.95 787.14 L1191.87 788.30 L1193.79 789.48 L1195.70 790.69 L1197.62 791.91 L1199.54 793.15 L1201.46 794.40 L1203.38 795.68 L1205.30 796.97 L1207.22 798.28 L1209.14 799.61 L1211.06 800.96 L1212.98 802.32 L1214.90 803.69 L1216.82 805.08 L1218.73 806.49 L1220.65 807.91 L1222.57 809.34 L1224.49 810.79 L1226.41 812.26 L1228.33 813.73 L1230.25 815.22 L1232.17 816.72 L1234.09 818.24 L1236.01 819.76 L1237.93 821.30 L1239.85 822.85 L1241.76 824.41 L1243.68 825.98 L1245.60 827.56 L1247.52 829.16 L1249.44 830.76 L1251.36 832.37 L1253.28 834.00 L1255.20 835.63 L1257.12 837.27 L1259.04 838.92 L1260.96 840.58 L1262.88 842.25 L1264.79 843.92 L1266.71 845.61 L1268.63 847.30 L1270.55 849.00 L1272.47 850.70 L1274.39 852.41 L1276.31 854.13 L1278.23 855.85 L1280.15 857.58 L1282.07 859.31 L1283.99 861.05 L1285.91 862.79 L1287.82 864.54 L1289.74 866.29 L1291.66 868.04 L1293.58 869.80 L1295.50 871.56 L1297.42 873.31 L1299.34 875.07 L1301.26 876.83 L1303.18 878.59 L1305.10 880.35 L1307.02 882.11 L1308.94 883.87 L1310.86 885.62 L1312.77 887.38 L1314.69 889.12 L1316.61 890.87 L1318.53 892.61 L1320.45 894.34 L1322.37 896.07 L1324.29 897.80 L1326.21 899.51 L1328.13 901.22 L1330.05 902.92 L1331.97 904.61 L1333.88 906.29 L1335.80 907.96 L1337.72 909.62 L1339.64 911.26 L1341.56 912.90 L1343.48 914.52 L1345.40 916.13 L1347.32 917.72 L1349.24 919.30 L1351.16 920.86 L1353.08 922.41 L1355.00 923.94 L1356.91 925.45 L1358.83 926.95 L1360.75 928.42 L1362.67 929.88 L1364.59 931.32 L1366.51 932.73 L1368.43 934.13 L1370.35 935.50 L1372.27 936.85 L1374.19 938.18 L1376.11 939.48 L1378.03 940.76 L1379.94 942.02 L1381.86 943.26 L1383.78 944.46 L1385.70 945.65 L1387.62 946.80 L1389.54 947.93 L1391.46 949.04 L1393.38 950.11 L1395.30 951.16 L1397.22 952.19 L1399.14 953.18 L1401.06 954.15 L1402.97 955.09 L1404.89 955.99 L1406.81 956.87 L1408.73 957.73 L1410.65 958.55 L1412.57 959.34 L1414.49 960.10 L1416.41 960.83 L1418.33 961.54 L1420.25 962.21 L1422.17 962.85 L1424.09 963.46 L1426.00 964.04 L1427.92 964.59 L1429.84 965.11 L1431.76 965.59 L1433.68 966.05 L1435.60 966.47 L1437.52 966.87 L1439.44 967.23 L1441.36 967.56 L1443.28 967.86 L1445.20 968.13 L1447.12 968.37 L1449.03 968.57 L1450.95 968.75 L1452.87 968.89 L1454.79 969.00 L1456.71 969.08 L1458.63 969.12 L1460.55 969.14 L1462.47 969.12 L1464.39 969.08 L1466.31 969.00 L1468.23 968.89 L1470.15 968.75 L1472.07 968.57 L1473.98 968.37 L1475.90 968.13 L1477.82 967.86 L1479.74 967.56 L1481.66 967.23 L1483.58 966.87 L1485.50 966.47 L1487.42 966.05 L1489.34 965.59 L1491.26 965.11 L1493.18 964.59 L1495.09 964.04 L1497.01 963.46 L1498.93 962.85 L1500.85 962.21 L1502.77 961.54 L1504.69 960.83 L1506.61 960.10 L1508.53 959.34 L1510.45 958.55 L1512.37 957.73 L1514.29 956.87 L1516.21 955.99 L1518.12 955.09 L1520.04 954.15 L1521.96 953.18 L1523.88 952.19 L1525.80 951.16 L1527.72 950.11 L1529.64 949.04 L1531.56 947.93 L1533.48 946.80 L1535.40 945.65 L1537.32 944.46 L1539.24 943.26 L1541.15 942.02 L1543.07 940.76 L1544.99 939.48 L1546.91 938.18 L1548.83 936.85 L1550.75 935.50 L1552.67 934.13 L1554.59 932.73 L1556.51 931.32 L1558.43 929.88 L1560.35 928.42 L1562.27 926.95 L1564.18 925.45 L1566.10 923.94 L1568.02 922.41 L1569.94 920.86 L1571.86 919.30 L1573.78 917.72 L1575.70 916.13 L1577.62 914.52 L1579.54 912.90 L1581.46 911.26 L1583.38 909.62 L1585.30 907.96 L1587.21 906.29 L1589.13 904.61 L1591.05 902.92 L1592.97 901.22 L1594.89 899.51 L1596.81 897.80 L1598.73 896.07 L1600.65 894.34 L1602.57 892.61 L1604.49 890.87 L1606.41 889.12 L1608.33 887.38 L1610.24 885.62 L1612.16 883.87 L1614.08 882.11 L1616.00 880.35 L1617.92 878.59 L1619.84 876.83 L1621.76 875.07 L1623.68 873.31 L1625.60 871.56 L1627.52 869.80 L1629.44 868.04 L1631.36 866.29 L1633.27 864.54 L1635.19 862.79 L1637.11 861.05 L1639.03 859.31 L1640.95 857.58 L1642.87 855.85 L1644.79 854.13 L1646.71 852.41 L1648.63 850.70 L1650.55 849.00 L1652.47 847.30 L1654.39 845.61 L1656.30 843.92 L1658.22 842.25 L1660.14 840.58 L1662.06 838.92 L1663.98 837.27 L1665.90 835.63 L1667.82 834.00 L1669.74 832.37 L1671.66 830.76 L1673.58 829.16 L1675.50 827.56 L1677.42 825.98 L1679.34 824.41 L1681.25 822.85 L1683.17 821.30 L1685.09 819.76 L1687.01 818.24 L1688.93 816.72 L1690.85 815.22 L1692.77 813.73 L1694.69 812.26 L1696.61 810.79 L1698.53 809.34 L1700.45 807.91 L1702.36 806.49 L1704.28 805.08 L1706.20 803.69 L1708.12 802.32 L1710.04 800.96 L1711.96 799.61 L1713.88 798.28 L1715.80 796.97 L1717.72 795.68 L1719.64 794.40 L1721.56 793.15 L1723.48 791.91 L1725.39 790.69 L1727.31 789.48 L1729.23 788.30 L1731.15 787.14 L1733.07 786.00 L1734.99 784.88 L1736.91 783.79 L1738.83 782.71 L1740.75 781.66 L1742.67 780.63 L1744.59 779.63 L1746.51 778.65 L1748.42 777.69 L1750.34 776.76 L1752.26 775.86 L1754.18 774.98 L1756.10 774.13 L1758.02 773.30 L1759.94 772.51 L1761.86 771.74 L1763.78 771.00 L1765.70 770.29 L1767.62 769.61 L1769.54 768.96 L1771.45 768.34 L1773.37 767.75 L1775.29 767.19 L1777.21 766.67 L1779.13 766.17 L1781.05 765.71 L1782.97 765.29 L1784.89 764.89 L1786.81 764.53 L1788.73 764.20 L1790.65 763.91 L1792.57 763.65 L1794.48 763.42 L1796.40 763.23 L1798.32 763.07" stroke="#000" stroke-width="4.0" fill="none" stroke-linejoin="round"/>
<path d="M1115.10 1196.16 L1117.02 1196.11 L1118.94 1195.99 L1120.86 1195.78 L1122.78 1195.49 L1124.70 1195.12 L1126.62 1194.66 L1128.53 1194.12 L1130.45 1193.50 L1132.37 1192.80 L1134.29 1192.01 L1136.21 1191.15 L1138.13 1190.20 L1140.05 1189.18 L1141.97 1188.08 L1143.89 1186.90 L1145.81 1185.64 L1147.73 1184.31 L1149.64 1182.90 L1151.56 1181.41 L1153.48 1179.86 L1155.40 1178.23 L1157.32 1176.53 L1159.24 1174.76 L1161.16 1172.92 L1163.08 1171.01 L1165.00 1169.03 L1166.92 1167.00 L1168.84 1164.89 L1170.76 1162.73 L1172.67 1160.50 L1174.59 1158.21 L1176.51 1155.87 L1178.43 1153.46 L1180.35 1151.01 L1182.27 1148.49 L1184.19 1145.93 L1186.11 1143.32 L1188.03 1140.65 L1189.95 1137.94 L1191.87 1135.19 L1193.79 1132.39 L1195.70 1129.54 L1197.62 1126.66 L1199.54 1123.74 L1201.46 1120.78 L1203.38 1117.79 L1205.30 1114.76 L1207.22 1111.70 L1209.14 1108.61 L1211.06 1105.49 L1212.98 1102.35 L1214.90 1099.18 L1216.82 1095.99 L1218.73 1092.78 L1220.65 1089.55 L1222.57 1086.30 L1224.49 1083.04 L1226.41 1079.76 L1228.33 1076.47 L1230.25 1073.17 L1232.17 1069.87 L1234.09 1066.55 L1236.01 1063.23 L1237.93 1059.91 L1239.85 1056.59 L1241.76 1053.27 L1243.68 1049.95 L1245.60 1046.63 L1247.52 1043.32 L1249.44 1040.02 L1251.36 1036.73 L1253.28 1033.44 L1255.20 1030.17 L1257.12 1026.92 L1259.04 1023.67 L1260.96 1020.45 L1262.88 1017.24 L1264.79 1014.05 L1266.71 1010.89 L1268.63 1007.74 L1270.55 1004.62 L1272.47 1001.53 L1274.39 998.46 L1276.31 995.42 L1278.23 992.41 L1280.15 989.43 L1282.07 986.48 L1283.99 983.57 L1285.91 980.68 L1287.82 977.84 L1289.74 975.03 L1291.66 972.25 L1293.58 969.51 L1295.50 966.82 L1297.42 964.16 L1299.34 961.54 L1301.26 958.96 L1303.18 956.43 L1305.10 953.94 L1307.02 951.49 L1308.94 949.08 L1310.86 946.72 L1312.77 944.40 L1314.69 942.13 L1316.61 939.91 L1318.53 937.73 L1320.45 935.59 L1322.37 933.51 L1324.29 931.47 L1326.21 929.48 L1328.13 927.53 L1330.05 925.63 L1331.97 923.78 L1333.88 921.98 L1335.80 920.22 L1337.72 918.51 L1339.64 916.85 L1341.56 915.24 L1343.48 913.67 L1345.40 912.14 L1347.32 910.67 L1349.24 909.24 L1351.16 907.85 L1353.08 906.51 L1355.00 905.21 L1356.91 903.96 L1358.83 902.75 L1360.75 901.59 L1362.67 900.46 L1364.59 899.38 L1366.51 898.34 L1368.43 897.34 L1370.35 896.37 L1372.27 895.45 L1374.19 894.56 L1376.11 893.71 L1378.03 892.90 L1379.94 892.13 L1381.86 891.38 L1383.78 890.68 L1385.70 890.00 L1387.62 889.36 L1389.54 888.75 L1391.46 888.16 L1393.38 887.61 L1395.30 887.09 L1397.22 886.59 L1399.14 886.12 L1401.06 885.68 L1402.97 885.26 L1404.89 884.86 L1406.81 884.49 L1408.73 884.14 L1410.65 883.81 L1412.57 883.50 L1414.49 883.21 L1416.41 882.94 L1418.33 882.69 L1420.25 882.45 L1422.17 882.24 L1424.09 882.03 L1426.00 881.84 L1427.92 881.67 L1429.84 881.51 L1431.76 881.36 L1433.68 881.23 L1435.60 881.11 L1437.52 880.99 L1439.44 880.89 L1441.36 880.80 L1443.28 880.72 L1445.20 880.65 L1447.12 880.59 L1449.03 880.54 L1450.95 880.49 L1452.87 880.46 L1454.79 880.43 L1456.71 880.41 L1458.63 880.40 L1460.55 880.39 L1462.47 880.40 L1464.39 880.41 L1466.31 880.43 L1468.23 880.46 L1470.15 880.49 L1472.07 880.54 L1473.98 880.59 L1475.90 880.65 L1477.82 880.72 L1479.74 880.80 L1481.66 880.89 L1483.58 880.99 L1485.50 881.11 L1487.42 881.23 L1489.34 881.36 L1491.26 881.51 L1493.18 881.67 L1495.09 881.84 L1497.01 882.03 L1498.93 882.24 L1500.85 882.45 L1502.77 882.69 L1504.69 882.94 L1506.61 883.21 L1508.53 883.50 L1510.45 883.81 L1512.37 884.14 L1514.29 884.49 L1516.21 884.86 L1518.12 885.26 L1520.04 885.68 L1521.96 886.12 L1523.88 886.59 L1525.80 887.09 L1527.72 887.61 L1529.64 888.16 L1531.56 888.75 L1533.48 889.36 L1535.40 890.00 L1537.32 890.68 L1539.24 891.38 L1541.15 892.13 L1543.07 892.90 L1544.99 893.71 L1546.91 894.56 L1548.83 895.45 L1550.75 896.37 L1552.67 897.34 L1554.59 898.34 L1556.51 899.38 L1558.43 900.46 L1560.35 901.59 L1562.27 902.75 L1564.18 903.96 L1566.10 905.21 L1568.02 906.51 L1569.94 907.85 L1571.86 909.24 L1573.78 910.67 L1575.70 912.14 L1577.62 913.67 L1579.54 915.24 L1581.46 916.85 L1583.38 918.51 L1585.30 920.22 L1587.21 921.98 L1589.13 923.78 L1591.05 925.63 L1592.97 927.53 L1594.89 929.48 L1596.81 931.47 L1598.73 933.51 L1600.65 935.59 L1602.57 937.73 L1604.49 939.91 L1606.41 942.13 L1608.33 944.40 L1610.24 946.72 L1612.16 949.08 L1614.08 951.49 L1616.00 953.94 L1617.92 956.43 L1619.84 958.96 L1621.76 961.54 L1623.68 964.16 L1625.60 966.82 L1627.52 969.51 L1629.44 972.25 L1631.36 975.03 L1633.27 977.84 L1635.19 980.68 L1637.11 983.57 L1639.03 986.48 L1640.95 989.43 L1642.87 992.41 L1644.79 995.42 L1646.71 998.46 L1648.63 1001.53 L1650.55 1004.62 L1652.47 1007.74 L1654.39 1010.89 L1656.30 1014.05 L1658.22 1017.24 L1660.14 1020.45 L1662.06 1023.67 L1663.98 1026.92 L1665.90 1030.17 L1667.82 1033.44 L1669.74 1036.73 L1671.66 1040.02 L1673.58 1043.32 L1675.50 1046.63 L1677.42 1049.95 L1679.34 1053.27 L1681.25 1056.59 L1683.17 1059.91 L1685.09 1063.23 L1687.01 1066.55 L1688.93 1069.87 L1690.85 1073.17 L1692.77 1076.47 L1694.69 1079.76 L1696.61 1083.04 L1698.53 1086.30 L1700.45 1089.55 L1702.36 1092.78 L1704.28 1095.99 L1706.20 1099.18 L1708.12 1102.35 L1710.04 1105.49 L1711.96 1108.61 L1713.88 1111.70 L1715.80 1114.76 L1717.72 1117.79 L1719.64 1120.78 L1721.56 1123.74 L1723.48 1126.66 L1725.39 1129.54 L1727.31 1132.39 L1729.23 1135.19 L1731.15 1137.94 L1733.07 1140.65 L1734.99 1143.32 L1736.91 1145.93 L1738.83 1148.49 L1740.75 1151.01 L1742.67 1153.46 L1744.59 1155.87 L1746.51 1158.21 L1748.42 1160.50 L1750.34 1162.73 L1752.26 1164.89 L1754.18 1167.00 L1756.10 1169.03 L1758.02 1171.01 L1759.94 1172.92 L1761.86 1174.76 L1763.78 1176.53 L1765.70 1178.23 L1767.62 1179.86 L1769.54 1181.41 L1771.45 1182.90 L1773.37 1184.31 L1775.29 1185.64 L1777.21 1186.90 L1779.13 1188.08 L1781.05 1189.18 L1782.97 1190.20 L1784.89 1191.15 L1786.81 1192.01 L1788.73 1192.80 L1790.65 1193.50 L1792.57 1194.12 L1794.48 1194.66 L1796.40 1195.12 L1798.32 1195.49" stroke="#eb0000" stroke-width="4.0" fill="none" stroke-linejoin="round" stroke-dasharray="32.5 17.5"/>
<text transform="translate(1077.40 66.10) scale(1 1.045)" font-size="45.0" text-anchor="end" fill="#231f20">7.8</text>
<text transform="translate(1077.40 180.90) scale(1 1.045)" font-size="45.0" text-anchor="end" fill="#231f20">7.6</text>
<text transform="translate(1077.40 295.70) scale(1 1.045)" font-size="45.0" text-anchor="end" fill="#231f20">7.4</text>
<text transform="translate(1077.40 410.50) scale(1 1.045)" font-size="45.0" text-anchor="end" fill="#231f20">7.2</text>
<text transform="translate(1077.40 525.30) scale(1 1.045)" font-size="45.0" text-anchor="end" fill="#231f20">7.0</text>
<text transform="translate(1077.40 640.10) scale(1 1.045)" font-size="45.0" text-anchor="end" fill="#231f20">6.8</text>
<text transform="translate(1077.40 700.70) scale(1 1.045)" font-size="45.0" text-anchor="end" fill="#231f20">4.4</text>
<text transform="translate(1077.40 815.50) scale(1 1.045)" font-size="45.0" text-anchor="end" fill="#231f20">4.2</text>
<text transform="translate(1077.40 930.30) scale(1 1.045)" font-size="45.0" text-anchor="end" fill="#231f20">4.0</text>
<text transform="translate(1077.40 1045.10) scale(1 1.045)" font-size="45.0" text-anchor="end" fill="#231f20">3.8</text>
<text transform="translate(1077.40 1159.90) scale(1 1.045)" font-size="45.0" text-anchor="end" fill="#231f20">3.6</text>
<text transform="translate(1077.40 1274.70) scale(1 1.045)" font-size="45.0" text-anchor="end" fill="#231f20">3.4</text>
<text transform="translate(1115.10 1328.30) scale(1 1.045)" font-size="45.0" text-anchor="middle" fill="#231f20">0</text>
<text transform="translate(1230.25 1328.30) scale(1 1.045)" font-size="45.0" text-anchor="middle" fill="#231f20">30</text>
<text transform="translate(1345.40 1328.30) scale(1 1.045)" font-size="45.0" text-anchor="middle" fill="#231f20">60</text>
<text transform="translate(1460.55 1328.30) scale(1 1.045)" font-size="45.0" text-anchor="middle" fill="#231f20">90</text>
<text transform="translate(1575.70 1328.30) scale(1 1.045)" font-size="45.0" text-anchor="middle" fill="#231f20">120</text>
<text transform="translate(1690.85 1328.30) scale(1 1.045)" font-size="45.0" text-anchor="middle" fill="#231f20">150</text>
<text transform="translate(1806.00 1328.30) scale(1 1.045)" font-size="45.0" text-anchor="middle" fill="#231f20">180</text>
<text transform="translate(1277.32 1394.00) scale(1 1.045)" font-size="52.0" text-anchor="start" fill="#231f20">Incidence angle (°)</text>
<text transform="translate(992.6 809.8) rotate(-90) scale(1 1.045)" font-size="56.3" fill="#231f20">Velocity (km/s)</text>
<text transform="translate(1199.00 181.70) scale(1 1.045)" font-size="45.2" text-anchor="start" fill="#231f20">quasi–P (7.32)</text>
<text transform="translate(1197.60 786.60) scale(1 1.045)" font-size="45.2" text-anchor="start" fill="#231f20">quasi–SV (4.08)</text>
<text transform="translate(1143.40 1218.00) scale(1 1.045)" font-size="45.2" text-anchor="start" fill="#eb0000">quasi–SH (3.84)</text>
<text transform="translate(5.80 43.40) scale(1 1.045)" font-size="47.0" text-anchor="start" fill="#231f20" font-weight="bold">a</text>
<text transform="translate(960.4 43.3) scale(1.08 1.045)" font-size="47" fill="#231f20" font-weight="bold">b</text>
</svg>
</body></html>
